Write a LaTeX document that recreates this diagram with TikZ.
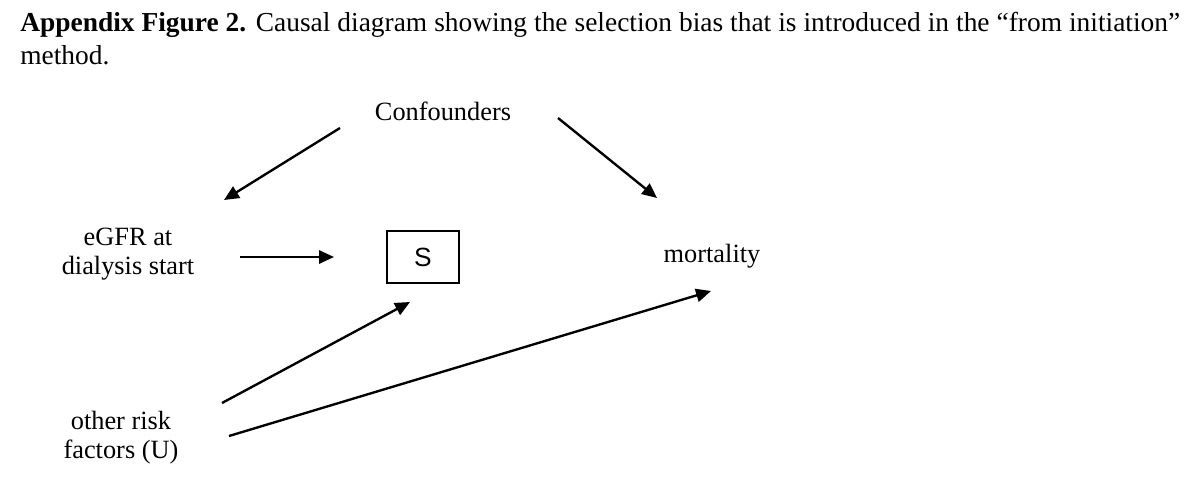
\documentclass[tikz,border=0pt]{standalone}
\usepackage{fontspec}
\setmainfont{Liberation Serif}
\newfontfamily\arialfont{Liberation Sans}
\usetikzlibrary{arrows.meta}

\begin{document}
\begin{tikzpicture}[x=0.02cm,y=-0.02cm,
    lbl/.style={font=\fontsize{15}{16.6}\selectfont, align=center, inner sep=0pt},
    arr/.style={line width=1.35pt, -{Triangle[length=8.5pt,width=7.5pt]}},
    selbox/.style={draw, line width=0.9pt, inner sep=0pt, minimum width=1.44cm, minimum height=1.04cm, font=\arialfont\fontsize{15}{17}\selectfont}]
    \useasboundingbox (0,0) rectangle (1200,484);

    % Caption
    \node[anchor=base west, inner sep=0pt, text width=23.2cm, align=justify,
          font=\fontsize{15.6}{18.8}\selectfont] (cap) at (20,31)
          {\textbf{Appendix Figure 2.} Causal diagram showing the selection bias that is introduced in the “from initiation”\linebreak method.};

    % Define the variables
    \node[lbl] (C) at (443,111) {Confounders};
    \node[lbl] (E) at (128,254) {eGFR at\\dialysis start};
    \node[selbox] (S) at (423,257) {S};
    \node[lbl] (M) at (712,256) {mortality};
    \node[lbl] (U) at (121,438) {other risk\\factors (U)};

    % Define arrow ends
    \coordinate (c1) at (340,128);
    \coordinate (e1) at (224,200);
    \coordinate (c2) at (558,118);
    \coordinate (m1) at (657,198);
    \coordinate (e2) at (240,257);
    \coordinate (s1) at (334,257);
    \coordinate (u1) at (222,403);
    \coordinate (s2) at (410,302);
    \coordinate (u2) at (229,436);
    \coordinate (m2) at (711,291);

    % Draw the arrows
    \draw[arr] (c1) -- (e1);
    \draw[arr] (c2) -- (m1);
    \draw[arr] (e2) -- (s1);
    \draw[arr] (u1) -- (s2);
    \draw[arr] (u2) -- (m2);
\end{tikzpicture}
\end{document}
